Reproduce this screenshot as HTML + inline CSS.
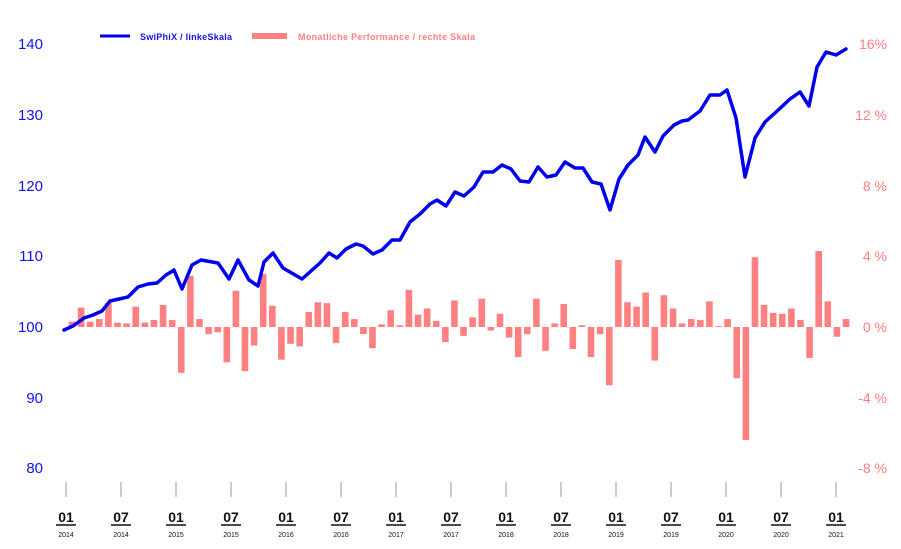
<!DOCTYPE html>
<html><head><meta charset="utf-8"><style>
html,body{margin:0;padding:0;background:#fff;}
svg{display:block;font-family:"Liberation Sans",sans-serif;}
</style></head><body>
<svg width="901" height="549" viewBox="0 0 901 549" xmlns="http://www.w3.org/2000/svg">
<g font-size="15" fill="#1212f0">
<text x="43" y="49" text-anchor="end">140</text>
<text x="43" y="120" text-anchor="end">130</text>
<text x="43" y="191" text-anchor="end">120</text>
<text x="43" y="261" text-anchor="end">110</text>
<text x="43" y="332" text-anchor="end">100</text>
<text x="43" y="403" text-anchor="end">90</text>
<text x="43" y="473" text-anchor="end">80</text>
</g>
<g font-size="14" fill="#ff7f7f">
<text x="887" y="49" text-anchor="end">16%</text>
<text x="887" y="120" text-anchor="end">12 %</text>
<text x="887" y="191" text-anchor="end">8 %</text>
<text x="887" y="261" text-anchor="end">4 %</text>
<text x="887" y="332" text-anchor="end">0 %</text>
<text x="887" y="403" text-anchor="end">-4 %</text>
<text x="887" y="473" text-anchor="end">-8 %</text>
</g>
<line x1="100" y1="36" x2="130" y2="36" stroke="#0000ee" stroke-width="3"/>
<text x="140" y="40" font-size="9" font-weight="bold" fill="#1212f0" textLength="92">SwiPhiX / linkeSkala</text>
<rect x="252" y="33" width="35" height="6" fill="#ff8080"/>
<text x="298" y="40" font-size="9" font-weight="bold" fill="#ff8080" textLength="177">Monatliche Performance / rechte Skala</text>
<g id="bars" fill="#ff8080"></g>
<polyline id="ln" fill="none" stroke="#0000ee" stroke-width="3.5" stroke-linejoin="round" stroke-linecap="round" points=""/>
<g id="ax"></g>
</svg>
<script>
var v=[0.3,1.1,0.3,0.45,1.35,0.25,0.2,1.15,0.25,0.4,1.25,0.4,-2.6,2.9,0.45,-0.4,-0.3,-2.0,2.05,-2.5,-1.05,3.0,1.2,-1.85,-0.95,-1.1,0.85,1.4,1.35,-0.9,0.85,0.45,-0.4,-1.2,0.15,0.95,0.1,2.1,0.7,1.05,0.35,-0.85,1.5,-0.5,0.55,1.6,-0.2,0.75,-0.6,-1.7,-0.4,1.6,-1.35,0.2,1.3,-1.25,0.1,-1.7,-0.4,-3.3,3.8,1.4,1.15,1.95,-1.9,1.8,1.05,0.2,0.45,0.4,1.45,0.05,0.45,-2.9,-6.4,3.95,1.25,0.8,0.75,1.05,0.4,-1.75,4.3,1.45,-0.55,0.45];
var ns="http://www.w3.org/2000/svg",g=document.getElementById('bars');
v.forEach(function(d,i){var x=72+i*9.106,h=Math.abs(d)*17.67;var r=document.createElementNS(ns,'rect');r.setAttribute('x',x-3.3);r.setAttribute('width',6.6);r.setAttribute('y',d>0?327-h:327);r.setAttribute('height',h);g.appendChild(r);});
var p=[[64,330],[73,326],[84,318],[93,315],[102,311],[110,301],[119,299],[128,297],[138,287],[148,284],[157,283],[166,275],[174,270],[182,289],[192,265],[201,260],[218,263],[229,279],[238,260],[249,280],[258,286],[264,262],[273,253],[283,268],[302,279],[320,263],[329,253],[337,258],[346,249],[356,244],[363,246],[373,254],[382,250],[392,240],[400,240],[410,222],[420,214],[430,204],[437,200],[446,206],[455,192],[464,196],[474,187],[483,172],[493,172],[502,165],[511,169],[520,181],[529,182],[538,167],[547,177],[556,175],[565,162],[575,168],[583,168],[592,182],[601,184],[610,210],[619,179],[628,165],[638,155],[645,137],[655,152],[663,136],[674,125],[682,121],[688,120],[700,111],[710,95],[720,95],[727,90],[736,118],[745,177],[755,138],[765,122],[775,113],[790,99],[800,92],[809,106],[817,67],[826,52],[836,55],[846,49]];
document.getElementById('ln').setAttribute('points',p.map(function(a){return a.join(',')}).join(' '));
var ax=document.getElementById('ax'),s='';
var yrs=[2014,2014,2015,2015,2016,2016,2017,2017,2018,2018,2019,2019,2020,2020,2021];
for(var k=0;k<15;k++){var x=66+k*55.0;var m=k%2?'07':'01';
s+='<line x1="'+x+'" y1="482" x2="'+x+'" y2="497" stroke="#999" stroke-width="1"/>';
s+='<text x="'+x+'" y="522" text-anchor="middle" font-size="14" font-weight="bold" fill="#111">'+m+'</text>';
s+='<line x1="'+(x-10)+'" y1="525" x2="'+(x+10)+'" y2="525" stroke="#111" stroke-width="1.5"/>';
s+='<text x="'+x+'" y="537" text-anchor="middle" font-size="7" fill="#111">'+yrs[k]+'</text>';}
ax.innerHTML=s;
</script>
</body></html>
